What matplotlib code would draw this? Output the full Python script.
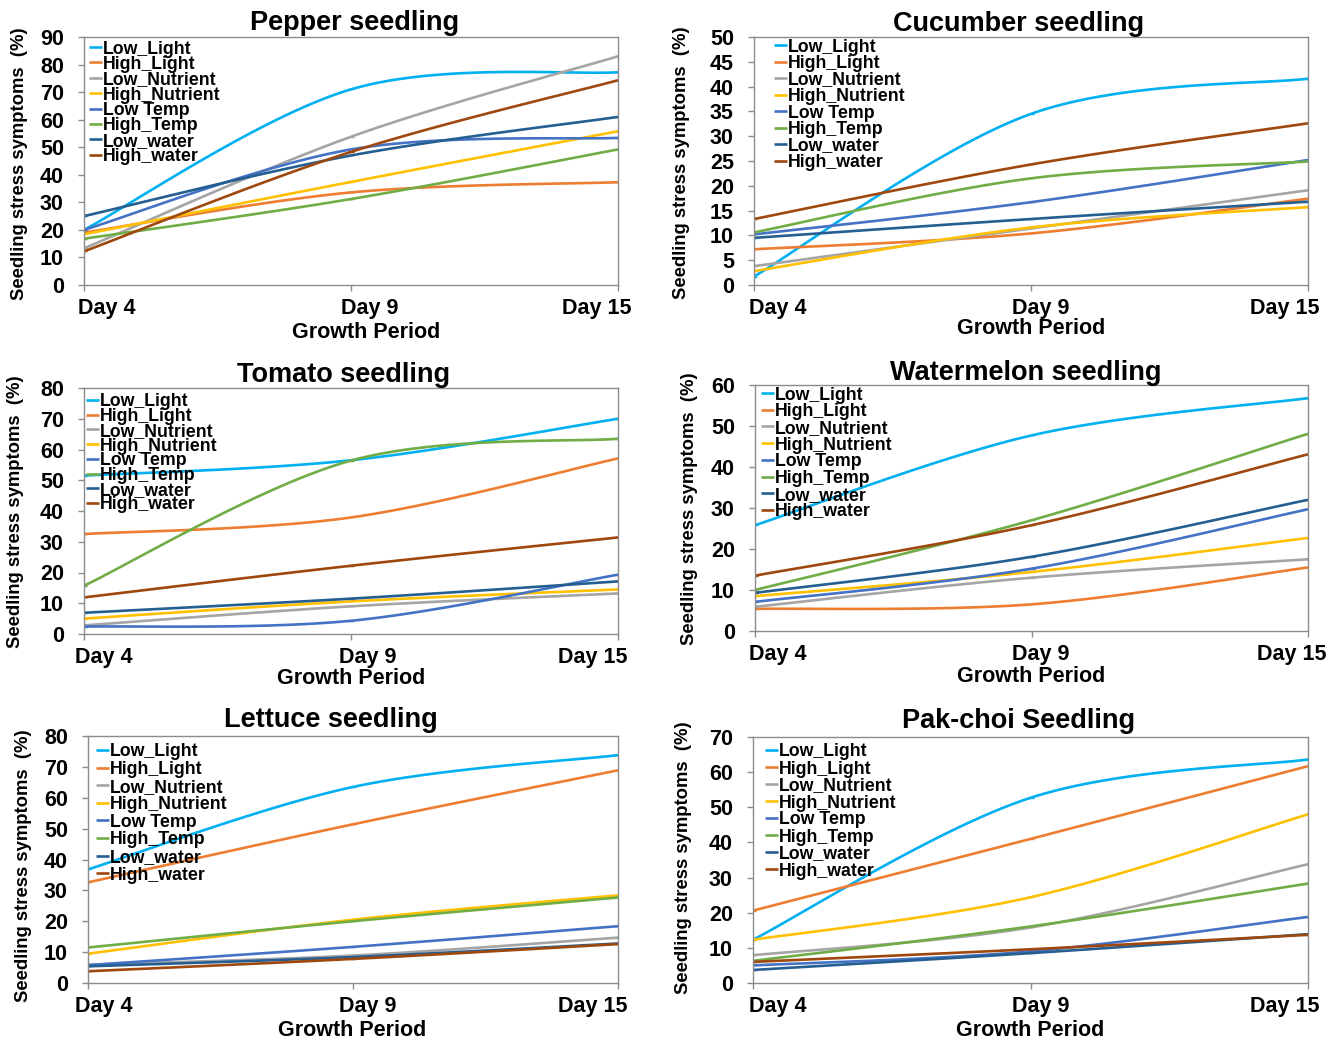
import numpy as np
import matplotlib
matplotlib.use("Agg")
import matplotlib.pyplot as plt
from matplotlib.lines import Line2D
from matplotlib.transforms import ScaledTranslation

plt.rcParams['font.family'] = ['Liberation Sans', 'DejaVu Sans']
plt.rcParams['font.weight'] = 'bold'

days = ["Day 4", "Day 9", "Day 15"]
series_names = ["Low_Light", "High_Light", "Low_Nutrient", "High_Nutrient",
                "Low Temp", "High_Temp", "Low_water", "High_water"]
series_colors = ["#00B0F0", "#ED7D31", "#A5A5A5", "#FFC000",
                 "#4472C4", "#70AD47", "#255E91", "#9E480E"]

# Stress symptoms (%) per crop, one row per treatment, columns Day 4 / 9 / 15
pepper = [
    [20.0, 71.0, 77.2],
    [19.0, 33.6, 37.3],
    [13.3, 53.8, 83.0],
    [18.4, 37.4, 55.8],
    [20.0, 49.2, 53.4],
    [16.8, 31.2, 49.2],
    [25.0, 47.0, 61.0],
    [12.2, 48.3, 74.3],
]
cucumber = [
    [1.7, 34.5, 41.6],
    [7.2, 10.4, 17.4],
    [3.8, 11.4, 19.1],
    [2.8, 11.6, 15.7],
    [10.2, 16.7, 25.2],
    [10.6, 21.5, 24.9],
    [9.5, 13.3, 16.8],
    [13.3, 24.3, 32.6],
]
tomato = [
    [51.5, 56.5, 70.0],
    [32.5, 37.9, 57.1],
    [2.8, 9.0, 13.2],
    [5.0, 10.6, 14.5],
    [2.4, 4.3, 19.3],
    [15.7, 56.4, 63.5],
    [6.9, 11.5, 17.1],
    [11.9, 22.2, 31.4],
]
watermelon = [
    [25.8, 47.7, 56.8],
    [5.4, 6.5, 15.5],
    [5.9, 13.0, 17.5],
    [8.5, 14.4, 22.7],
    [7.1, 15.2, 29.7],
    [10.0, 27.0, 48.1],
    [9.3, 18.1, 32.0],
    [13.5, 25.8, 43.1],
]
lettuce = [
    [36.8, 63.5, 73.8],
    [32.6, 51.4, 68.9],
    [5.9, 8.9, 14.7],
    [9.5, 20.5, 28.4],
    [5.8, 11.7, 18.4],
    [11.5, 20.0, 27.7],
    [5.4, 8.4, 12.8],
    [3.8, 7.8, 12.6],
]
pakchoi = [
    [12.3, 52.7, 63.6],
    [20.6, 41.0, 61.7],
    [7.9, 15.8, 33.8],
    [12.3, 24.4, 48.0],
    [5.0, 9.0, 18.8],
    [6.3, 16.1, 28.3],
    [3.7, 8.5, 13.9],
    [6.0, 9.6, 13.7],
]

titles = ["Pepper seedling", "Cucumber seedling", "Tomato seedling",
          "Watermelon seedling", "Lettuce seedling", "Pak-choi Seedling"]
datasets = [pepper, cucumber, tomato, watermelon, lettuce, pakchoi]
y_max = [90, 50, 80, 60, 80, 70]
y_step = [10, 5, 10, 10, 10, 10]

W, H = 1341, 1038
DPI = 100

# Panel geometry in pixels: (left, right, top, bottom)
boxes = [(84, 618, 37, 285), (754, 1308, 37, 285),
         (84, 618, 388, 634), (755, 1308, 385, 631),
         (88, 618, 736, 983), (753, 1308, 737, 983)]
# title (x center, baseline y)
title_pos = [(355, 30), (1019, 31), (344, 382), (1026, 380), (331, 727), (1019, 728)]
# x label centre
xlab_pos = [(366, 332), (1031, 329), (351, 679), (1031, 676), (352, 1030), (1030, 1030)]
# y label centre
ylab_pos = [(20, 164), (682, 163), (16, 512), (690, 509), (24, 866), (683, 858)]
# tick label centres for the three days
xtick_cx = [(107, 370, 597), (778, 1041, 1285), (104, 368, 593),
            (778, 1041, 1292), (104, 368, 593), (778, 1041, 1285)]
# key box: (handle left x, first-row centre y, row pitch)
legend_pos = [(89, 47, 15.4), (774, 45, 16.5), (86, 400, 14.7),
              (761, 393, 16.7), (96, 750, 17.6), (765, 750, 17.0)]


def smooth(vals, n=60):
    """Bezier smoothing through the points, in the style of spreadsheet 'smoothed lines'."""
    pts = np.column_stack([np.arange(len(vals), dtype=float), np.asarray(vals, float)])
    out = []
    m = len(pts)
    t = np.linspace(0, 1, n)[:, None]
    for i in range(m - 1):
        p0 = pts[max(i - 1, 0)]
        p1 = pts[i]
        p2 = pts[i + 1]
        p3 = pts[min(i + 2, m - 1)]
        c1 = p1 + (p2 - p0) / 6.0
        c2 = p2 - (p3 - p1) / 6.0
        seg = ((1 - t) ** 3) * p1 + 3 * ((1 - t) ** 2) * t * c1 + 3 * (1 - t) * t ** 2 * c2 + t ** 3 * p2
        out.append(seg if i == 0 else seg[1:])
    return np.vstack(out)


fig = plt.figure(figsize=(W / DPI, H / DPI), dpi=DPI)
spine_col = "#8C8C8C"
leg_fs = 12.8
LW = 1.9

for k in range(6):
    l, r, t_, b = boxes[k]
    ax = fig.add_axes([l / W, 1 - b / H, (r - l) / W, (b - t_) / H])
    data = datasets[k]
    for name, col, vals in zip(series_names, series_colors, data):
        curve = smooth(vals)
        ax.plot(curve[:, 0], curve[:, 1], color=col, lw=LW, solid_capstyle='butt', label=name)
        ax.plot(np.arange(3), vals, ls='none', marker='_', ms=4, mew=1.0, color=col)

    ax.set_xlim(0, 2)
    ax.set_ylim(0, y_max[k])
    ax.set_yticks(np.arange(0, y_max[k] + 0.1, y_step[k]))
    ax.set_xticks([0, 1, 2])
    ax.set_xticklabels(days)
    for sp in ax.spines.values():
        sp.set_color(spine_col)
        sp.set_linewidth(1.0)
    ax.tick_params(axis='both', direction='out', length=4.5, width=1.0,
                   color=spine_col, labelsize=15.5, labelcolor='black')
    ax.tick_params(axis='y', pad=10)
    ax.tick_params(axis='x', pad=5)

    # tick label horizontal placement
    w_ax = r - l
    for lab, cx, xv in zip(ax.get_xticklabels(), xtick_cx[k], [0, 1, 2]):
        tick_px = l + xv * w_ax / 2
        dx = (cx - tick_px) / DPI
        lab.set_transform(lab.get_transform() + ScaledTranslation(dx, 0, fig.dpi_scale_trans))
        lab.set_fontweight('bold')
    for lab in ax.get_yticklabels():
        lab.set_fontweight('bold')

    def fx(px):
        return (px - l) / (r - l)

    def fy(py):
        return (b - py) / (b - t_)

    ax.set_title(titles[k], fontsize=19.5, fontweight='bold',
                 x=fx(title_pos[k][0]), y=fy(title_pos[k][1]), pad=0, va='baseline')

    ax.set_xlabel("Growth Period", fontsize=15.5, fontweight='bold')
    ax.xaxis.set_label_coords(fx(xlab_pos[k][0]), fy(xlab_pos[k][1]))
    ax.xaxis.label.set_va('center')

    ax.set_ylabel("Seedling stress symptoms  (%)", fontsize=13.3, fontweight='bold')
    ax.yaxis.set_label_coords(fx(ylab_pos[k][0]), fy(ylab_pos[k][1]))
    ax.yaxis.label.set_va('center')

    # series key, one row per treatment
    hx, hy, pitch = legend_pos[k]
    for i, (name, col) in enumerate(zip(series_names, series_colors)):
        yy = 1 - (hy + i * pitch) / H
        fig.add_artist(Line2D([hx / W, (hx + 13) / W], [yy, yy], color=col, lw=LW,
                              solid_capstyle='butt', transform=fig.transFigure))
        fig.text((hx + 14) / W, yy, name, ha='left', va='center_baseline',
                 fontsize=leg_fs, fontweight='bold', color='black')

fig.savefig("out.png", dpi=DPI)
